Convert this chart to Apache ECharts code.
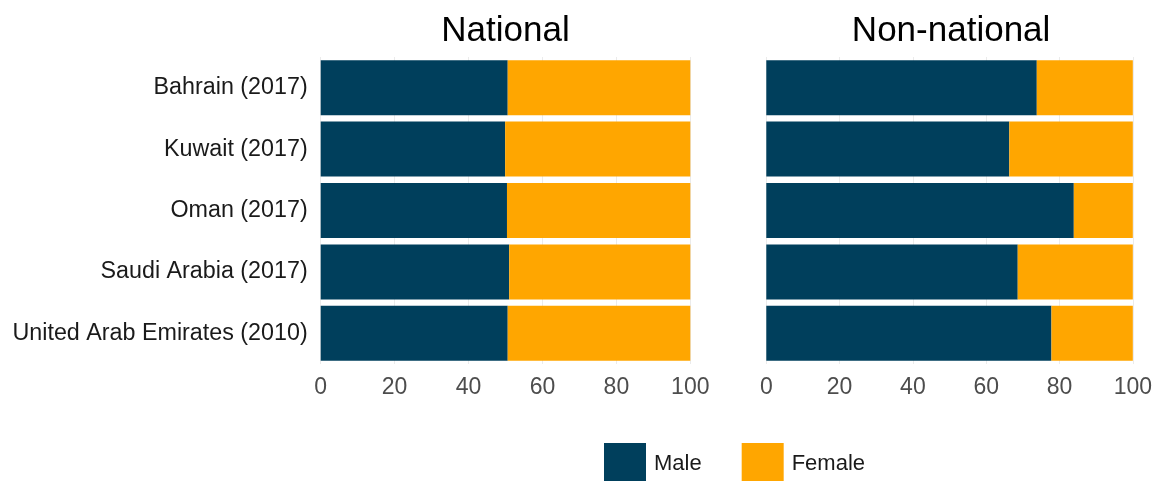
<!DOCTYPE html>
<html>
<head>
<meta charset="utf-8">
<script src="https://cdn.jsdelivr.net/npm/echarts@6/dist/echarts.min.js"></script>
<style>
html,body{margin:0;padding:0;background:#fff;}
#chart{width:1155px;height:481px;}
</style>
</head>
<body>
<div id="chart"></div>
<script>
const categories = ['Bahrain (2017)', 'Kuwait (2017)', 'Oman (2017)', 'Saudi Arabia (2017)', 'United Arab Emirates (2010)'];
const panels = ['National', 'Non-national'];
const nationalMale = [50.6, 49.9, 50.4, 51.0, 50.6];
const nationalFemale = [49.4, 50.1, 49.6, 49.0, 49.4];
const nonNationalMale = [73.8, 66.3, 83.9, 68.6, 77.8];
const nonNationalFemale = [26.2, 33.7, 16.1, 31.4, 22.2];
const xTicks = [0, 20, 40, 60, 80, 100];

const MALE = '#003f5c';
const FEMALE = '#ffa600';
const FONT = '"Liberation Sans", Arial, sans-serif';

const chart = echarts.init(document.getElementById('chart'));

const grids = [
  {left: 320.7, top: 57, width: 369.6, height: 307},
  {left: 766.3, top: 57, width: 371, height: 307}
];

function xAxis(i) {
  return {
    type: 'value', gridIndex: i, min: xTicks[0], max: xTicks[xTicks.length - 1], interval: 20,
    axisLine: {show: false}, axisTick: {show: false},
    splitLine: {show: true, lineStyle: {color: '#ebebeb', width: 1}},
    axisLabel: {color: '#4d4d4d', fontSize: 23, fontFamily: FONT, margin: 12}
  };
}
function yAxis(i) {
  return {
    type: 'category', gridIndex: i, data: categories, inverse: true,
    axisLine: {show: false}, axisTick: {show: false}, splitLine: {show: false},
    axisLabel: {show: i === 0, color: '#1a1a1a', fontSize: 23.3, fontFamily: FONT, margin: 13}
  };
}
function bar(name, data, i, color) {
  return {
    name: name, type: 'bar', stack: 'p' + i, xAxisIndex: i, yAxisIndex: i,
    data: data, itemStyle: {color: color}, barCategoryGap: '10.5%', silent: true
  };
}

chart.setOption({
  animation: false,
  title: [
    {text: panels[0], left: grids[0].left + grids[0].width / 2 - 5, top: 9, textAlign: 'center',
     textStyle: {fontSize: 35, fontWeight: 'normal', color: '#000', fontFamily: FONT}},
    {text: panels[1], left: 766.3 + 369.6 / 2 - 5, top: 9, textAlign: 'center',
     textStyle: {fontSize: 35, fontWeight: 'normal', color: '#000', fontFamily: FONT}}
  ],
  legend: {
    data: ['Male', 'Female'], left: 599, top: 438, itemWidth: 42, itemHeight: 42, itemGap: 40,
    icon: 'rect', selectedMode: false,
    textStyle: {fontSize: 22, color: '#1a1a1a', fontFamily: FONT, padding: [10, 0, 0, 3]}
  },
  grid: grids,
  xAxis: [xAxis(0), xAxis(1)],
  yAxis: [yAxis(0), yAxis(1)],
  series: [
    bar('Male', nationalMale, 0, MALE),
    bar('Female', nationalFemale, 0, FEMALE),
    bar('Male', nonNationalMale, 1, MALE),
    bar('Female', nonNationalFemale, 1, FEMALE)
  ]
});
</script>
</body>
</html>
